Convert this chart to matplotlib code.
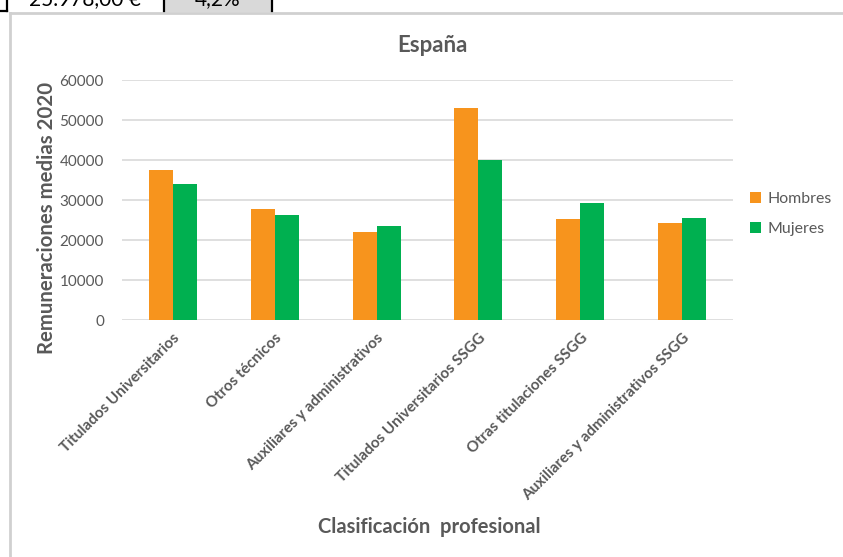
import matplotlib
matplotlib.use("Agg")
import matplotlib.pyplot as plt
from matplotlib.patches import Rectangle
from matplotlib.lines import Line2D
import numpy as np

categories = [
    "Titulados Universitarios",
    "Otros técnicos",
    "Auxiliares y administrativos",
    "Titulados Universitarios SSGG",
    "Otras titulaciones SSGG",
    "Auxiliares y administrativos SSGG",
]
hombres = [37500, 27800, 22100, 53000, 25300, 24200]
mujeres = [34000, 26300, 23400, 40000, 29300, 25400]
y_ticks = [0, 10000, 20000, 30000, 40000, 50000, 60000]
table_values = ["25.978,00 €", "4,2%"]

W, H = 843, 557
DPI = 100
FONT = "Lato"
GREY_TXT = "#595959"
ORANGE = "#F7941D"
GREEN = "#00B050"

fig = plt.figure(figsize=(W / DPI, H / DPI), dpi=DPI)
fig.patch.set_facecolor("white")


def fx(px):
    return px / W


def fy(py):
    return 1 - py / H


# spreadsheet cells above the chart
fig.add_artist(Rectangle((fx(164), fy(11.5)), fx(108), 11.5 / H,
                         facecolor="#D9D9D9", edgecolor="none"))
for x0, y0, x1, y1 in [(0, 11, 7, 11), (7, 0, 7, 11), (164, 0, 164, 12), (272, 0, 272, 12)]:
    fig.add_artist(Line2D([fx(x0), fx(x1)], [fy(y0), fy(y1)], color="black", lw=1.6))
fig.text(fx(85), fy(5), table_values[0], ha="center", va="baseline",
         fontsize=15, family=FONT, color="black")
fig.text(fx(218), fy(5), table_values[1], ha="center", va="baseline",
         fontsize=15, family=FONT, color="black")

# chart frame
fig.add_artist(Line2D([fx(9.5), fx(9.5)], [fy(12.5), fy(557)], color="#D0D0D0", lw=2.0))
fig.add_artist(Line2D([fx(9.5), fx(843)], [fy(12.5), fy(12.5)], color="#D0D0D0", lw=2.0))

# plot area
ax = fig.add_axes([fx(122), fy(320), fx(611), 240 / H])
x = np.arange(len(categories))
bw = 0.236
ax.bar(x - bw / 2, hombres, bw, color=ORANGE, label="Hombres", zorder=3)
ax.bar(x + bw / 2, mujeres, bw, color=GREEN, label="Mujeres", zorder=3)

ax.set_xlim(-0.5, len(categories) - 0.5)
ax.set_ylim(0, 60000)
ax.set_yticks(y_ticks)
ax.set_yticklabels([str(v) for v in y_ticks], family=FONT, fontsize=11, color=GREY_TXT)
ax.yaxis.grid(True, color="#D9D9D9", lw=1.2, zorder=0)
ax.set_axisbelow(True)
for s in ax.spines.values():
    s.set_visible(False)
ax.tick_params(axis="both", length=0)
ax.tick_params(axis="y", pad=13)

ax.set_xticks(x)
ax.set_xticklabels(categories, rotation=45, ha="right", va="top",
                   rotation_mode="anchor", family=FONT, fontsize=11,
                   fontweight="bold", color=GREY_TXT)
ax.tick_params(axis="x", pad=8)

fig.text(fx(432), fy(45), "España", ha="center", va="center", family=FONT,
         fontsize=16, fontweight="bold", color=GREY_TXT)
fig.text(fx(47), fy(218), "Remuneraciones medias 2020", rotation=90,
         ha="center", va="center", family=FONT, fontsize=14.7,
         fontweight="bold", color=GREY_TXT)
fig.text(fx(429), fy(527), "Clasificación  profesional", ha="center",
         va="center", family=FONT, fontsize=14.5, fontweight="bold", color=GREY_TXT)

leg = ax.legend(loc="center left", bbox_to_anchor=(1.005, 0.442), frameon=False,
                prop={"family": FONT, "size": 11.4}, handlelength=0.7,
                handleheight=0.7, handletextpad=0.4, labelspacing=1.0,
                labelcolor=GREY_TXT)

fig.savefig("out.png", dpi=DPI)
